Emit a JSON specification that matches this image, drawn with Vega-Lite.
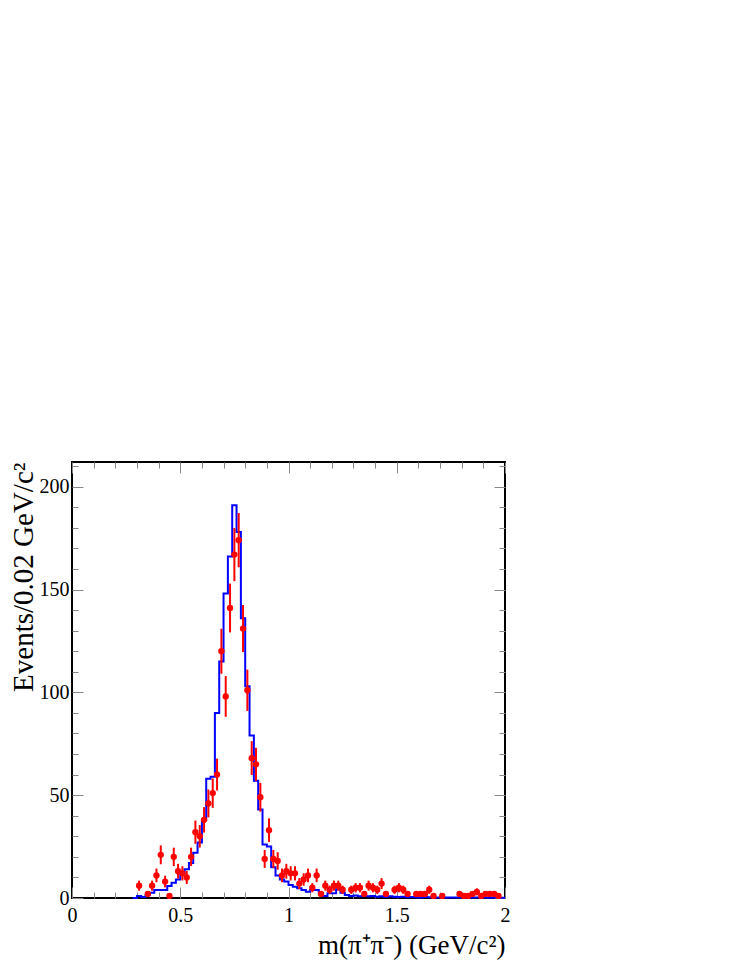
{
  "$schema": "https://vega.github.io/schema/vega-lite/v6.json",
  "width": 433,
  "height": 436,
  "autosize": {"type": "none"},
  "padding": {"left": 72, "top": 462, "right": 242, "bottom": 69},
  "background": "white",
  "config": {
    "font": "Liberation Serif",
    "view": {"stroke": "black", "strokeWidth": 2},
    "style": {"guide-label": {"font": "Liberation Serif", "fill": "black"}, "guide-title": {"font": "Liberation Serif", "fill": "black"}},
    "axis": {"grid": false, "domain": false, "tickColor": "#888888", "tickWidth": 1, "labelColor": "black", "titleColor": "black", "titleFontWeight": "normal", "labelFont": "Liberation Serif", "titleFont": "Liberation Serif"}
  },
  "datasets": {
    "hist": [
      {"m": 0.28, "n": 0}, {"m": 0.30, "n": 1}, {"m": 0.32, "n": 0.5}, {"m": 0.34, "n": 1.5},
      {"m": 0.36, "n": 2.6}, {"m": 0.38, "n": 3.9}, {"m": 0.40, "n": 3.9}, {"m": 0.42, "n": 3.9},
      {"m": 0.44, "n": 5.8}, {"m": 0.46, "n": 7.4}, {"m": 0.48, "n": 9}, {"m": 0.50, "n": 12},
      {"m": 0.52, "n": 14}, {"m": 0.54, "n": 17}, {"m": 0.56, "n": 22}, {"m": 0.58, "n": 27},
      {"m": 0.60, "n": 38}, {"m": 0.62, "n": 58}, {"m": 0.64, "n": 59}, {"m": 0.66, "n": 90},
      {"m": 0.68, "n": 115}, {"m": 0.70, "n": 148}, {"m": 0.72, "n": 166}, {"m": 0.74, "n": 191},
      {"m": 0.76, "n": 178}, {"m": 0.78, "n": 136}, {"m": 0.80, "n": 103}, {"m": 0.82, "n": 79},
      {"m": 0.84, "n": 57}, {"m": 0.86, "n": 43}, {"m": 0.88, "n": 26}, {"m": 0.90, "n": 25},
      {"m": 0.92, "n": 15}, {"m": 0.94, "n": 11}, {"m": 0.96, "n": 9}, {"m": 0.98, "n": 8},
      {"m": 1.00, "n": 6.3}, {"m": 1.02, "n": 5.5}, {"m": 1.04, "n": 4.7}, {"m": 1.06, "n": 3.9},
      {"m": 1.08, "n": 3.1}, {"m": 1.10, "n": 3.9}, {"m": 1.12, "n": 3.9}, {"m": 1.14, "n": 2.3},
      {"m": 1.16, "n": 1}, {"m": 1.18, "n": 2.3}, {"m": 1.20, "n": 2.3}, {"m": 1.22, "n": 4.2},
      {"m": 1.24, "n": 2.6}, {"m": 1.26, "n": 1.5}, {"m": 1.28, "n": 1}, {"m": 1.30, "n": 1.2},
      {"m": 1.32, "n": 0.8}, {"m": 1.34, "n": 1}, {"m": 1.36, "n": 0.8}, {"m": 1.38, "n": 1},
      {"m": 1.40, "n": 0.6}, {"m": 1.42, "n": 0.8}, {"m": 1.44, "n": 0.5}, {"m": 1.46, "n": 0.8},
      {"m": 1.48, "n": 0.6}, {"m": 1.50, "n": 0.5}, {"m": 1.52, "n": 0.6}, {"m": 1.54, "n": 0.4},
      {"m": 1.56, "n": 0.5}, {"m": 1.58, "n": 0.4}, {"m": 1.60, "n": 0.3}, {"m": 1.62, "n": 0.5},
      {"m": 1.64, "n": 0.4}, {"m": 1.66, "n": 0.3}, {"m": 1.68, "n": 0.3}, {"m": 1.70, "n": 0.4},
      {"m": 1.72, "n": 0.3}, {"m": 1.74, "n": 0.2}, {"m": 1.76, "n": 0.3}, {"m": 1.78, "n": 0.2},
      {"m": 1.80, "n": 0.3}, {"m": 1.82, "n": 0.2}, {"m": 1.84, "n": 0.3}, {"m": 1.86, "n": 0.2},
      {"m": 1.88, "n": 0.2}, {"m": 1.90, "n": 0.2}, {"m": 1.92, "n": 0.1}, {"m": 1.94, "n": 0.2},
      {"m": 1.96, "n": 0.1}, {"m": 1.98, "n": 0.1}, {"m": 2.00, "n": 0.1}
    ],
    "pts": [
      {"m": 0.31, "n": 6, "e": 2.45}, {"m": 0.35, "n": 2, "e": 1.41}, {"m": 0.37, "n": 6, "e": 2.45},
      {"m": 0.39, "n": 11, "e": 3.32}, {"m": 0.41, "n": 21, "e": 4.58}, {"m": 0.43, "n": 8, "e": 2.83},
      {"m": 0.45, "n": 1, "e": 1}, {"m": 0.47, "n": 20, "e": 4.47}, {"m": 0.49, "n": 13, "e": 3.61},
      {"m": 0.51, "n": 12, "e": 3.46}, {"m": 0.53, "n": 10, "e": 3.16}, {"m": 0.55, "n": 20, "e": 4.47},
      {"m": 0.57, "n": 32, "e": 5.66}, {"m": 0.59, "n": 30, "e": 5.48}, {"m": 0.61, "n": 38, "e": 6.16},
      {"m": 0.63, "n": 46, "e": 6.78}, {"m": 0.65, "n": 51, "e": 7.14}, {"m": 0.67, "n": 60, "e": 7.75},
      {"m": 0.69, "n": 120, "e": 10.95}, {"m": 0.71, "n": 98, "e": 9.9}, {"m": 0.73, "n": 141, "e": 11.87},
      {"m": 0.75, "n": 167, "e": 12.92}, {"m": 0.77, "n": 174, "e": 13.19}, {"m": 0.79, "n": 131, "e": 11.45},
      {"m": 0.81, "n": 101, "e": 10.05}, {"m": 0.83, "n": 68, "e": 8.25}, {"m": 0.85, "n": 65, "e": 8.06},
      {"m": 0.87, "n": 49, "e": 7}, {"m": 0.89, "n": 19, "e": 4.36}, {"m": 0.91, "n": 33, "e": 5.74},
      {"m": 0.93, "n": 19, "e": 4.36}, {"m": 0.95, "n": 18, "e": 4.24}, {"m": 0.97, "n": 11, "e": 3.32},
      {"m": 0.99, "n": 13, "e": 3.61}, {"m": 1.01, "n": 12, "e": 3.46}, {"m": 1.03, "n": 12, "e": 3.46},
      {"m": 1.05, "n": 7, "e": 2.65}, {"m": 1.07, "n": 9, "e": 3}, {"m": 1.09, "n": 11, "e": 3.32},
      {"m": 1.11, "n": 5, "e": 2.24}, {"m": 1.13, "n": 11, "e": 3.32}, {"m": 1.15, "n": 2, "e": 1.41},
      {"m": 1.17, "n": 6, "e": 2.45}, {"m": 1.19, "n": 4, "e": 2}, {"m": 1.21, "n": 6, "e": 2.45},
      {"m": 1.23, "n": 6, "e": 2.45}, {"m": 1.25, "n": 4, "e": 2}, {"m": 1.29, "n": 4, "e": 2},
      {"m": 1.31, "n": 5, "e": 2.24}, {"m": 1.33, "n": 5, "e": 2.24}, {"m": 1.35, "n": 2, "e": 1.41},
      {"m": 1.37, "n": 6, "e": 2.45}, {"m": 1.39, "n": 5, "e": 2.24}, {"m": 1.41, "n": 4, "e": 2},
      {"m": 1.43, "n": 7, "e": 2.65}, {"m": 1.45, "n": 2, "e": 1.41}, {"m": 1.49, "n": 4, "e": 2},
      {"m": 1.51, "n": 5, "e": 2.24}, {"m": 1.53, "n": 4, "e": 2}, {"m": 1.55, "n": 2, "e": 1.41},
      {"m": 1.59, "n": 2, "e": 1.41}, {"m": 1.61, "n": 2, "e": 1.41}, {"m": 1.63, "n": 2, "e": 1.41},
      {"m": 1.65, "n": 4, "e": 2}, {"m": 1.67, "n": 1, "e": 1}, {"m": 1.71, "n": 1, "e": 1},
      {"m": 1.79, "n": 2, "e": 1.41}, {"m": 1.81, "n": 1, "e": 1}, {"m": 1.83, "n": 1, "e": 1},
      {"m": 1.85, "n": 2, "e": 1.41}, {"m": 1.87, "n": 3, "e": 1.73}, {"m": 1.89, "n": 1, "e": 1},
      {"m": 1.91, "n": 2, "e": 1.41}, {"m": 1.93, "n": 2, "e": 1.41}, {"m": 1.95, "n": 2, "e": 1.41},
      {"m": 1.97, "n": 1, "e": 1}
    ]
  },
  "resolve": {"axis": {"x": "independent", "y": "independent"}},
  "layer": [
    {
      "mark": {"type": "rule", "color": "#ff0000", "strokeWidth": 1.5},
      "encoding": {"y": {"datum": 0, "type": "quantitative", "scale": {"domain": [0, 212], "nice": false}, "axis": null}}
    },
    {
      "data": {"name": "hist"},
      "mark": {"type": "line", "interpolate": "step-after", "color": "#0000ff", "strokeWidth": 2},
      "encoding": {
        "x": {"field": "m", "type": "quantitative", "scale": {"domain": [0, 2], "nice": false, "zero": false},
          "axis": {"orient": "bottom",
            "values": [0,0.1,0.2,0.3,0.4,0.5,0.6,0.7,0.8,0.9,1,1.1,1.2,1.3,1.4,1.5,1.6,1.7,1.8,1.9,2],
            "tickSize": {"condition": {"test": "round(datum.value*10)%5===0", "value": -11}, "value": -6},
            "labelExpr": "round(datum.value*10)%5===0 ? '' + datum.value : ''",
            "labelFont": "Liberation Serif", "labelFontSize": 20, "labelPadding": 18, "labelFlush": false, "labelOverlap": false,
            "title": "m(π⁺π⁻) (GeV/c²)", "titleFont": "Liberation Serif", "titleAnchor": "end", "titleFontSize": 27, "titlePadding": 2}},
        "y": {"field": "n", "type": "quantitative", "scale": {"domain": [0, 212], "nice": false},
          "axis": {"orient": "left",
            "values": [0,10,20,30,40,50,60,70,80,90,100,110,120,130,140,150,160,170,180,190,200,210],
            "tickSize": {"condition": {"test": "datum.value%50===0", "value": -11}, "value": -6},
            "labelExpr": "datum.value%50===0 ? '' + datum.value : ''",
            "labelFont": "Liberation Serif", "labelFontSize": 20, "labelPadding": 14, "labelOverlap": false,
            "title": "Events/0.02 GeV/c²", "titleFont": "Liberation Serif", "titleAnchor": "end", "titleFontSize": 29, "titlePadding": 1}}
      }
    },
    {
      "data": {"name": "pts"},
      "mark": {"type": "errorbar", "color": "#ff0000", "thickness": 2, "ticks": false},
      "encoding": {
        "x": {"field": "m", "type": "quantitative", "axis": null},
        "y": {"field": "n", "type": "quantitative", "axis": null},
        "yError": {"field": "e"}
      }
    },
    {
      "data": {"name": "pts"},
      "mark": {"type": "point", "filled": true, "shape": "circle", "color": "#ff0000", "size": 40, "opacity": 1},
      "encoding": {
        "x": {"field": "m", "type": "quantitative",
          "axis": {"orient": "top",
            "values": [0,0.1,0.2,0.3,0.4,0.5,0.6,0.7,0.8,0.9,1,1.1,1.2,1.3,1.4,1.5,1.6,1.7,1.8,1.9,2],
            "tickSize": {"condition": {"test": "round(datum.value*10)%5===0", "value": -11}, "value": -6},
            "labels": false, "title": null}},
        "y": {"field": "n", "type": "quantitative",
          "axis": {"orient": "right",
            "values": [0,10,20,30,40,50,60,70,80,90,100,110,120,130,140,150,160,170,180,190,200,210],
            "tickSize": {"condition": {"test": "datum.value%50===0", "value": -11}, "value": -6},
            "labels": false, "title": null}}
      }
    }
  ]
}
